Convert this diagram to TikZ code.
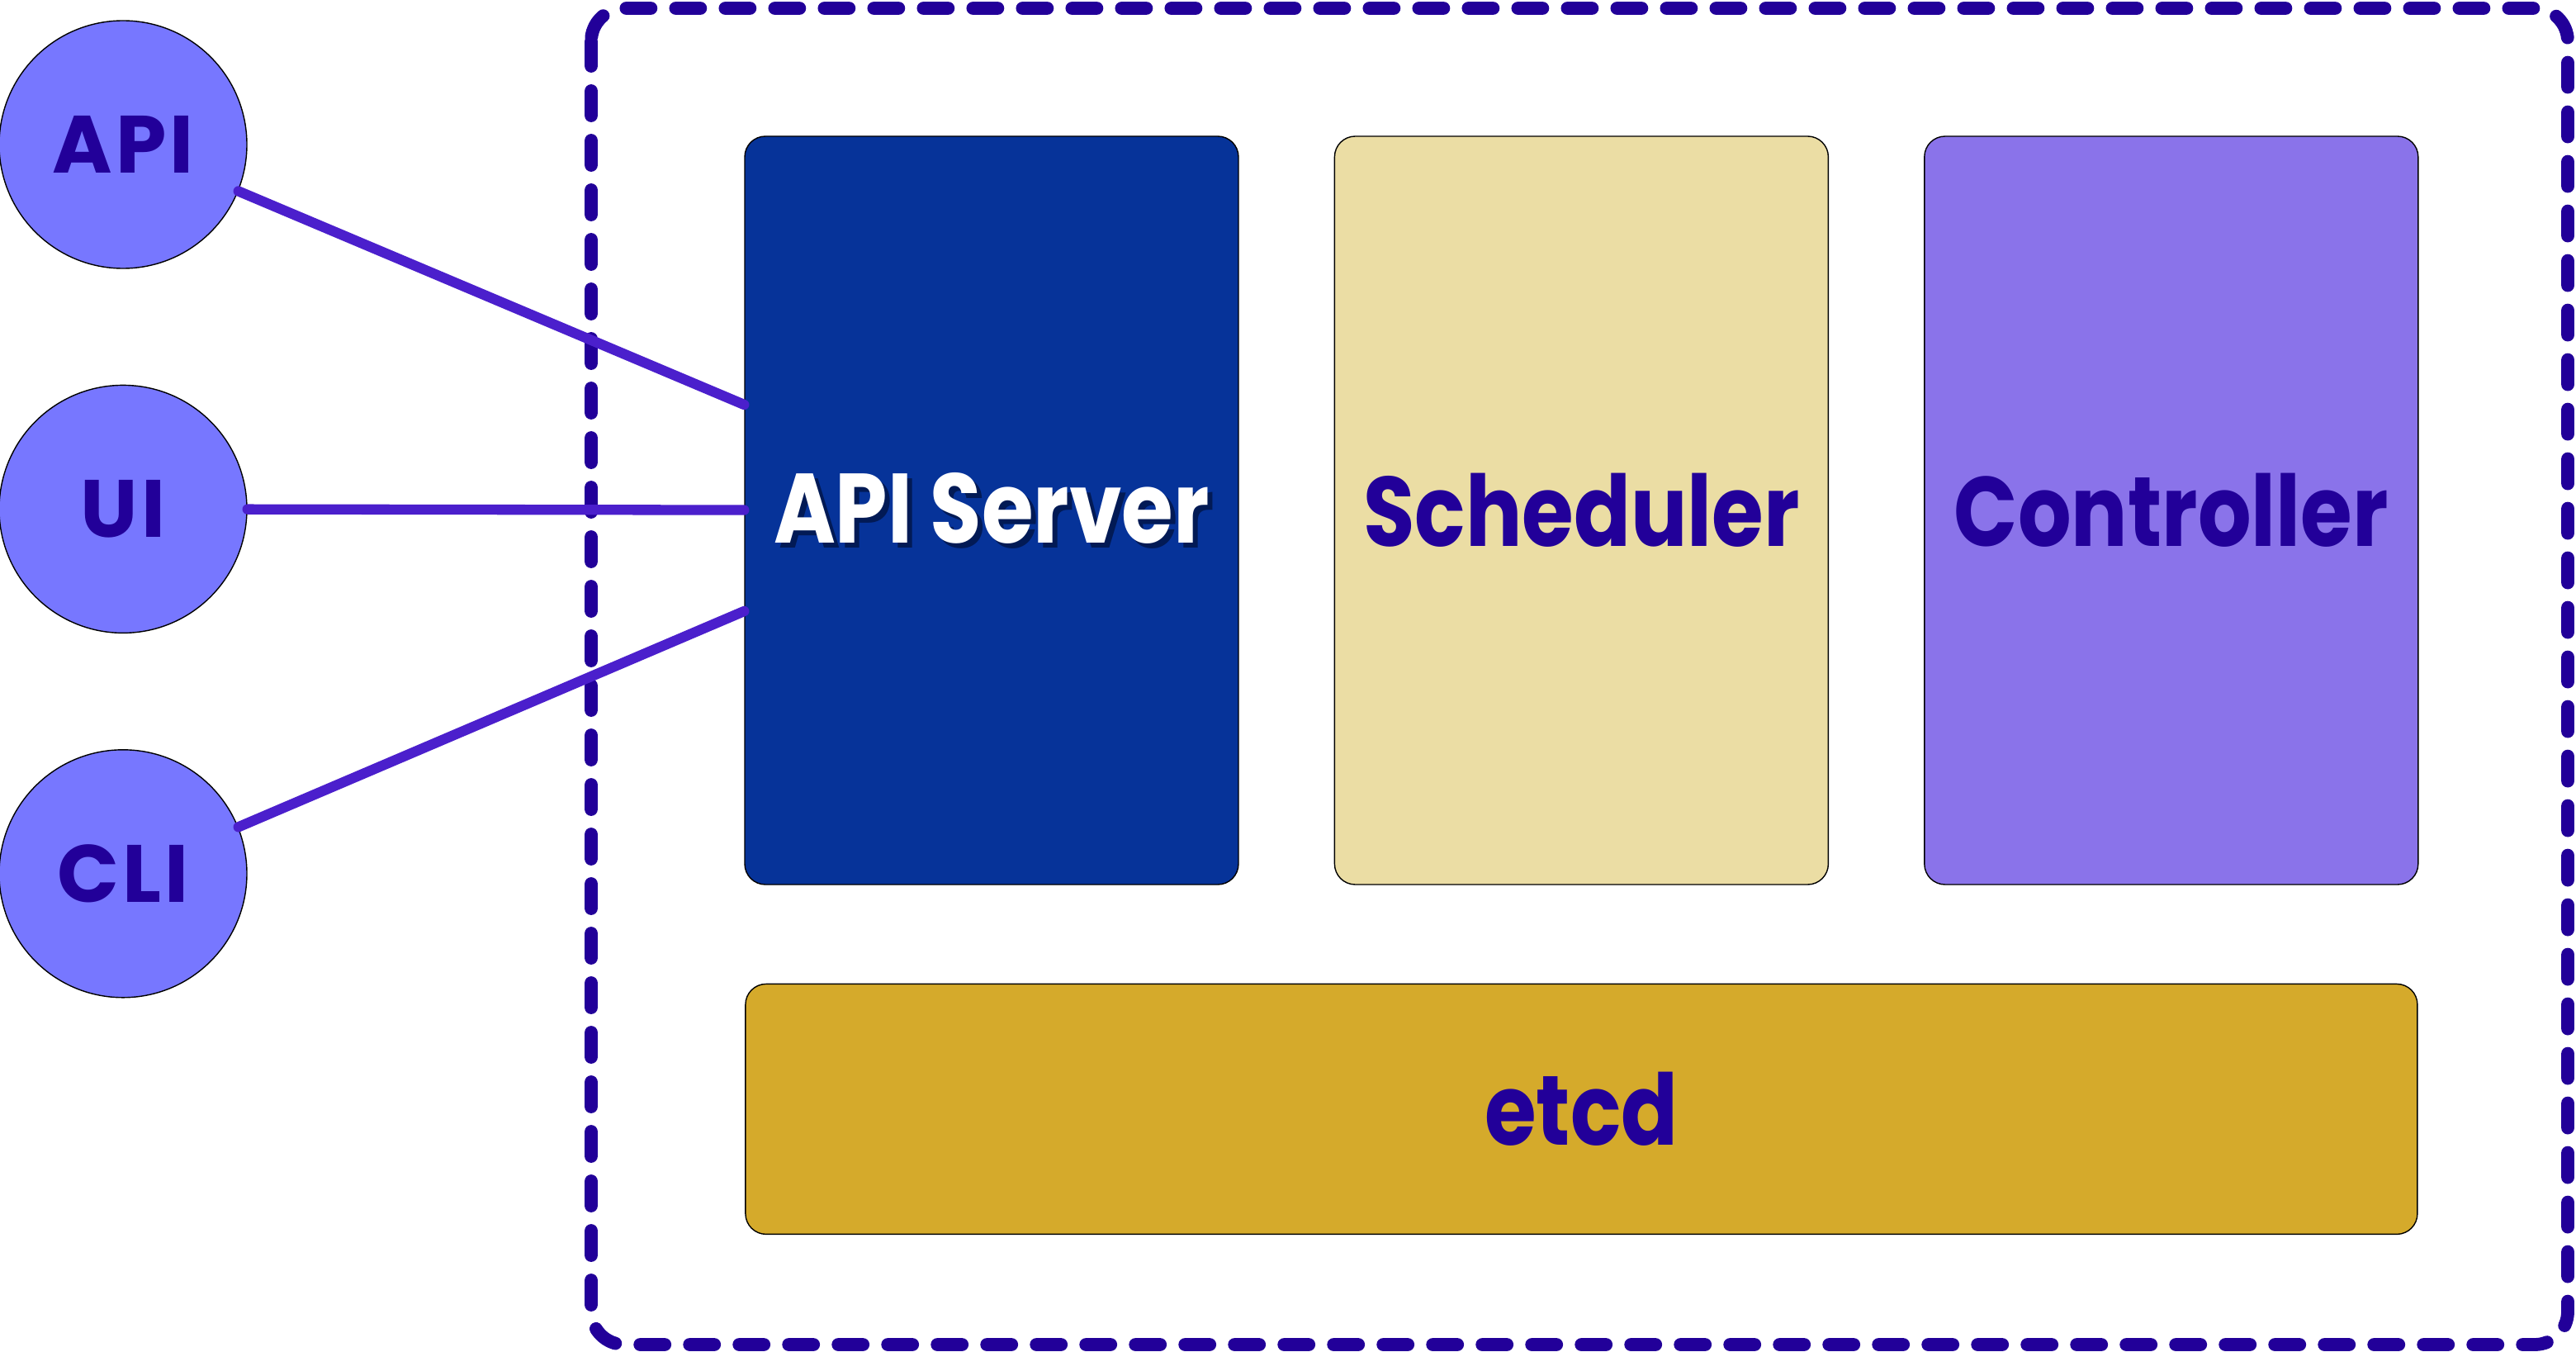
\documentclass[tikz,border=0pt]{standalone}
\usepackage{fontspec}
\newfontfamily\boxfont{Poppins}[LetterSpace=4]
\newfontfamily\partfont{Poppins}[FakeStretch=0.85]
\usetikzlibrary{positioning, calc}
\usepackage{xcolor}
\definecolor{Indigo}{HTML}{220099}
\definecolor{Wire}{HTML}{4B1FCC}
\definecolor{Client}{HTML}{7777FF}
\definecolor{ApiBlue}{HTML}{063399}
\definecolor{ApiShadow}{HTML}{021A55}
\definecolor{Sand}{HTML}{EBDDA4}
\definecolor{Lilac}{HTML}{8A73EA}
\definecolor{Gold}{HTML}{D5AA2B}
\newcommand{\shadowed}[1]{\rlap{\hspace{0.06cm}\raisebox{-0.06cm}{\textcolor{ApiShadow}{#1}}}#1}

\begin{document}
\begin{tikzpicture}\boxfont\bfseries
	\tikzstyle{client} = [
	circle,
	draw=black,
	line width=.4pt,
	fill=Client,
	text=Indigo,
	inner sep=0pt,
	minimum size=3cm,
	font=\fontsize{28}{30}\selectfont\boxfont\bfseries
	]
	\tikzstyle{part} = [
	rectangle,
	draw=black,
	line width=.4pt,
	rounded corners=.25cm,
	minimum width=5.98cm,
	minimum height=9.06cm,
	inner sep=0pt,
	text=Indigo,
	font=\fontsize{34}{36}\selectfont\partfont\bfseries
	]
	\tikzstyle{wire} = [line width=3.5pt, Wire, line cap=round]
	
	\useasboundingbox (0,0) rectangle (31.2,-16.37);
	
	\node[client] (api) at (1.49,-1.75) {API};
	\node[client, below=1.4cm of api] (ui) {UI};
	\node[client, below=1.4cm of ui] (cli) {CLI};
	
	\node[part, fill=ApiBlue, text=white] (apiserver) at (12.01,-6.18) {\shadowed{API Server}};
	\node[part, fill=Sand, right=1.15cm of apiserver] (scheduler) {Scheduler};
	\node[part, fill=Lilac, right=1.15cm of scheduler] (controller) {Controller};
	\node[part, fill=Gold, minimum width=20.25cm, minimum height=3.03cm, below=1.19cm of scheduler] (etcd) {etcd};
	
	\draw[Indigo, line width=4.5pt, line cap=round, dash pattern=on .3cm off .3cm, rounded corners=.4cm] (7.16,-0.1) rectangle (31.1,-16.28);
	
	\draw[wire] (api.-22.5) -- ([yshift=1.28cm]apiserver.west);
	\draw[wire] (ui) -- (apiserver);
	\draw[wire] (cli.22.5) -- ([yshift=-1.22cm]apiserver.west);
\end{tikzpicture}
\end{document}
